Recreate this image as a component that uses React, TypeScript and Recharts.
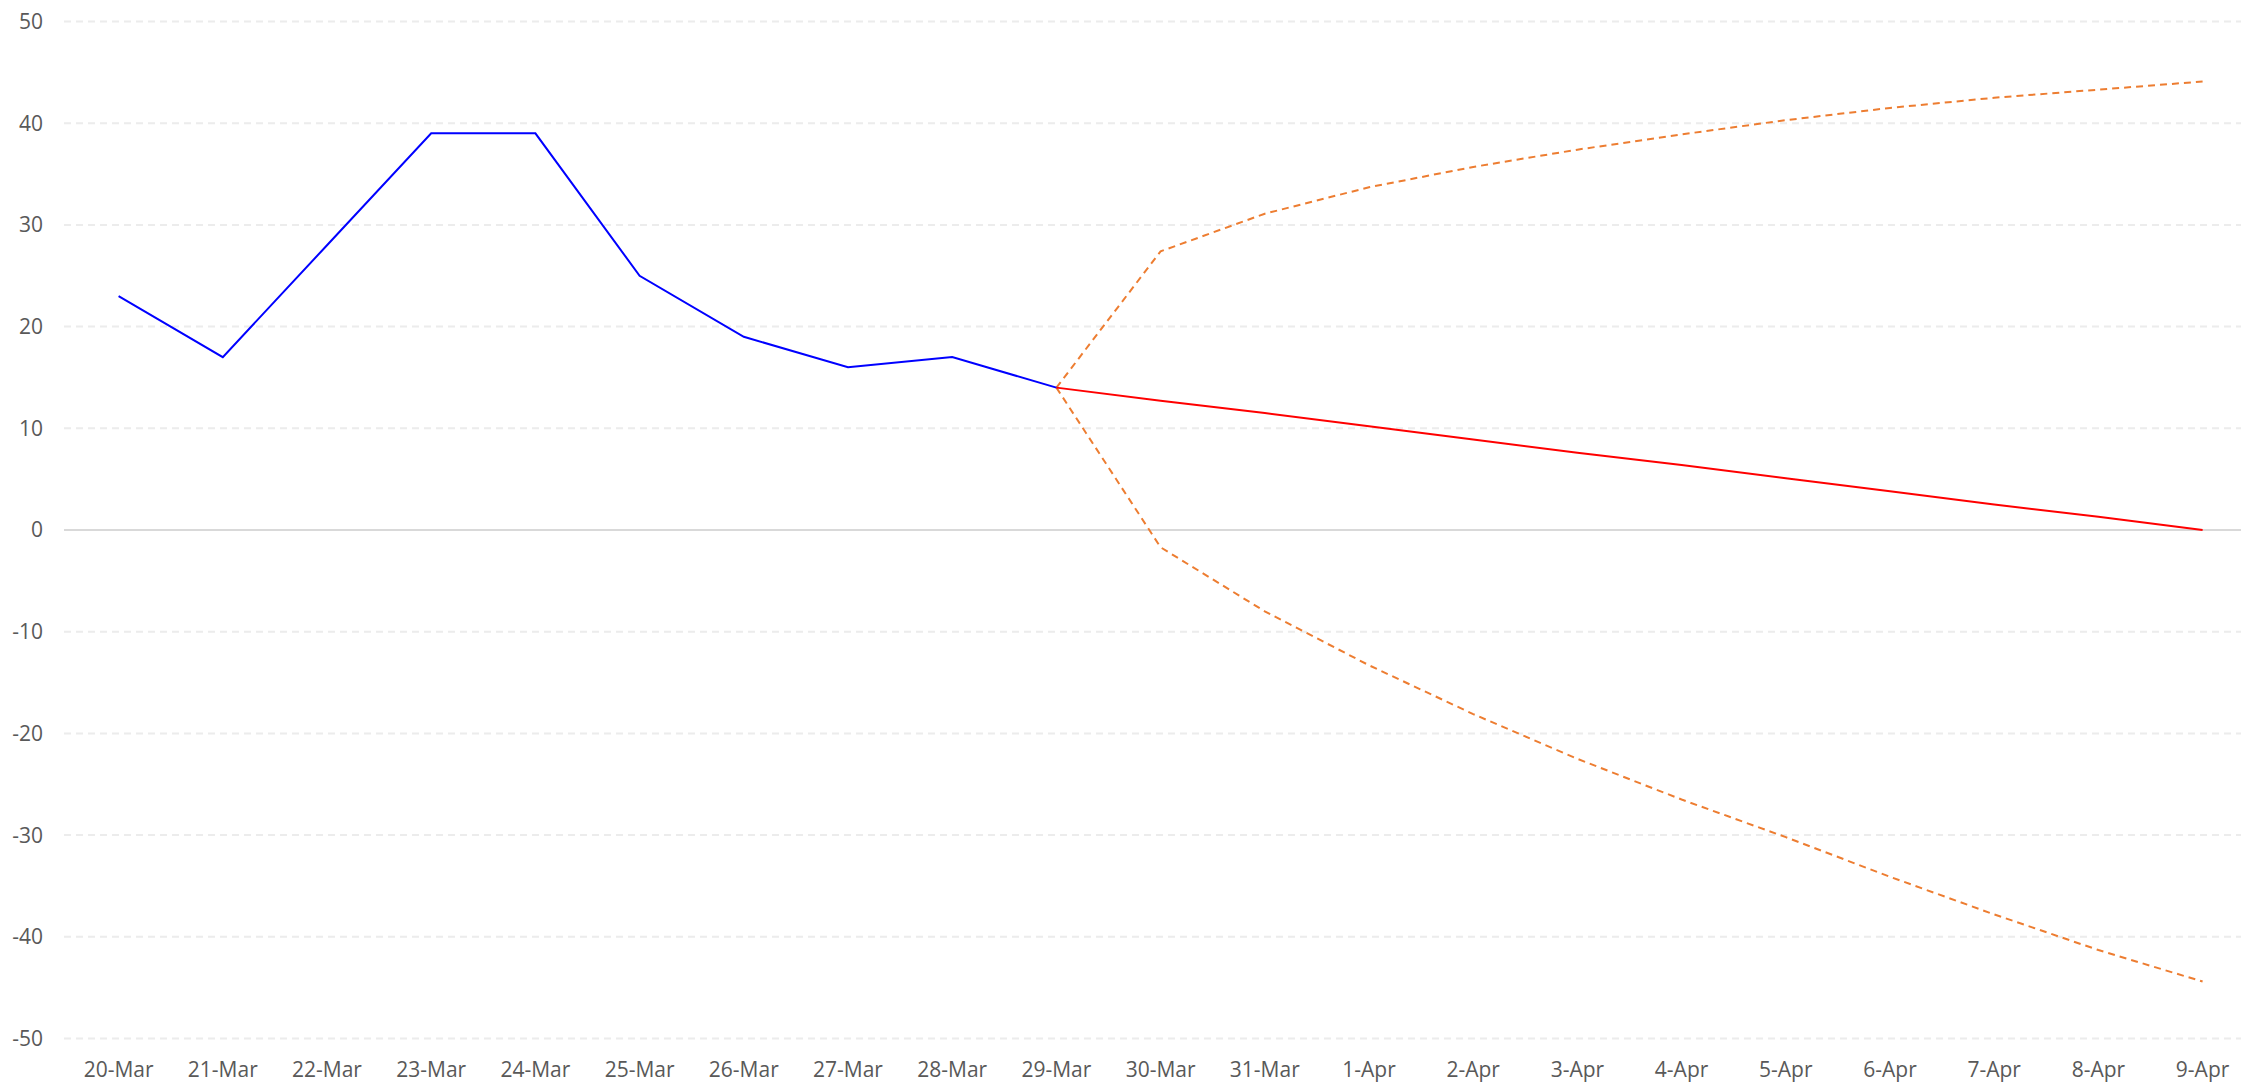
import React from "react";
import { LineChart, Line, XAxis, YAxis, CartesianGrid, ReferenceLine } from "recharts";

// x categories, one per day
const categories = [
  "20-Mar", "21-Mar", "22-Mar", "23-Mar", "24-Mar", "25-Mar", "26-Mar", "27-Mar", "28-Mar", "29-Mar",
  "30-Mar", "31-Mar", "1-Apr", "2-Apr", "3-Apr", "4-Apr", "5-Apr", "6-Apr", "7-Apr", "8-Apr", "9-Apr",
];

// observed values, 20-Mar .. 29-Mar
const actual = [23, 17, 28, 39, 39, 25, 19, 16, 17, 14];

// forecast and bounds, 29-Mar .. 9-Apr
const forecast = [14, 12.7, 11.5, 10.2, 8.9, 7.6, 6.4, 5.1, 3.8, 2.5, 1.3, 0];
const upper = [14, 27.4, 31.1, 33.7, 35.7, 37.4, 38.9, 40.3, 41.5, 42.5, 43.3, 44.1];
const lower = [14, -1.7, -8.0, -13.3, -18.1, -22.5, -26.5, -30.2, -34.1, -37.8, -41.3, -44.4];

const yTicks = [-50, -40, -30, -20, -10, 0, 10, 20, 30, 40, 50];

const forecastStart = actual.length - 1;

const data = categories.map((day, i) => {
  const f = i - forecastStart;
  return {
    day,
    actual: i < actual.length ? actual[i] : null,
    forecast: f >= 0 ? forecast[f] : null,
    upper: f >= 0 ? upper[f] : null,
    lower: f >= 0 ? lower[f] : null,
  };
});

const tickStyle = { fill: "#595959", fontSize: 21, fontFamily: "'Open Sans', 'Noto Sans', sans-serif" };

export default function App() {
  return (
    <div style={{ position: "absolute", left: 0, top: 0, background: "#fff" }}>
      <LineChart
        width={2241}
        height={1088}
        data={data}
        margin={{ top: 21.5, right: 0, bottom: 19.5, left: 0 }}
      >
        <CartesianGrid vertical={false} stroke="#ececec" strokeWidth={2} strokeDasharray="7 5" />
        <XAxis
          dataKey="day"
          scale="point"
          height={30}
          padding={{ left: 54.6, right: 38.4 }}
          axisLine={false}
          tickLine={false}
          tickSize={0}
          tickMargin={23.5}
          interval={0}
          tick={tickStyle}
        />
        <YAxis
          type="number"
          domain={[-50, 50]}
          ticks={yTicks}
          width={64}
          axisLine={false}
          tickLine={false}
          tickSize={0}
          tickMargin={21}
          interval={0}
          tick={tickStyle}
        />
        <ReferenceLine y={0} stroke="#d9d9d9" strokeWidth={2} />
        <Line
          type="linear"
          dataKey="upper"
          stroke="#ED7D31"
          strokeWidth={2}
          strokeDasharray="7 5"
          dot={false}
          activeDot={false}
          isAnimationActive={false}
        />
        <Line
          type="linear"
          dataKey="lower"
          stroke="#ED7D31"
          strokeWidth={2}
          strokeDasharray="7 5"
          dot={false}
          activeDot={false}
          isAnimationActive={false}
        />
        <Line
          type="linear"
          dataKey="forecast"
          stroke="#FF0000"
          strokeWidth={2}
          dot={false}
          activeDot={false}
          isAnimationActive={false}
        />
        <Line
          type="linear"
          dataKey="actual"
          stroke="#0000FF"
          strokeWidth={2}
          dot={false}
          activeDot={false}
          isAnimationActive={false}
        />
      </LineChart>
    </div>
  );
}
